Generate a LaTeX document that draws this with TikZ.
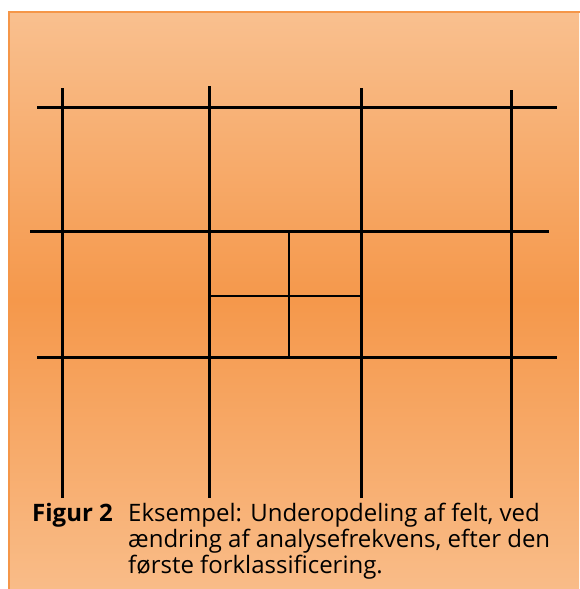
\documentclass[tikz,border=0pt]{standalone}
\usepackage{fontspec}
\setmainfont{Open Sans}
\usepackage{xcolor}
\usetikzlibrary{positioning}
\definecolor{boxtop}{RGB}{249,192,143}
\definecolor{boxmid}{RGB}{245,152,75}
\definecolor{boxbottom}{RGB}{249,188,136}
\definecolor{boxedge}{RGB}{245,150,72}
\tikzset{
    gridline/.style={line width=3pt,black},
    subline/.style={line width=1.5pt,black},
    caption/.style={anchor=base west,inner sep=0pt,font=\fontsize{24}{26}\selectfont},
}

\begin{document}
\begin{tikzpicture}[x=1pt,y=-1pt]
    \useasboundingbox (0,0) rectangle (579,589);
    \shade[top color=boxtop,bottom color=boxbottom,middle color=boxmid] (8,11) rectangle (579,589);
    \draw[boxedge,line width=2pt] (9,589) -- (9,12) -- (580,12);
    % coarse grid
    \foreach \x/\t in {62/88,209/86,361/88,511/90}
        \draw[gridline] (\x,\t) -- (\x,498);
    \draw[gridline] (37,107) -- (557,107);
    \draw[gridline] (30,231) -- (549,231);
    \draw[gridline] (37,357) -- (557,357);
    % finer field
    \draw[subline] (289,231) -- (289,357);
    \draw[subline] (209,296) -- (361,296);
    % caption
    \node[caption,font=\fontsize{24}{26}\selectfont\bfseries] (fig) at (32,521) {Figur 2};
    \node[caption] (line1) at (128,521) {Eksempel: Underopdeling af felt, ved};
    \node[caption] (line2) at (128,547) {ændring af analysefrekvens, efter den};
    \node[caption] (line3) at (128,573) {første forklassificering.};
\end{tikzpicture}
\end{document}
